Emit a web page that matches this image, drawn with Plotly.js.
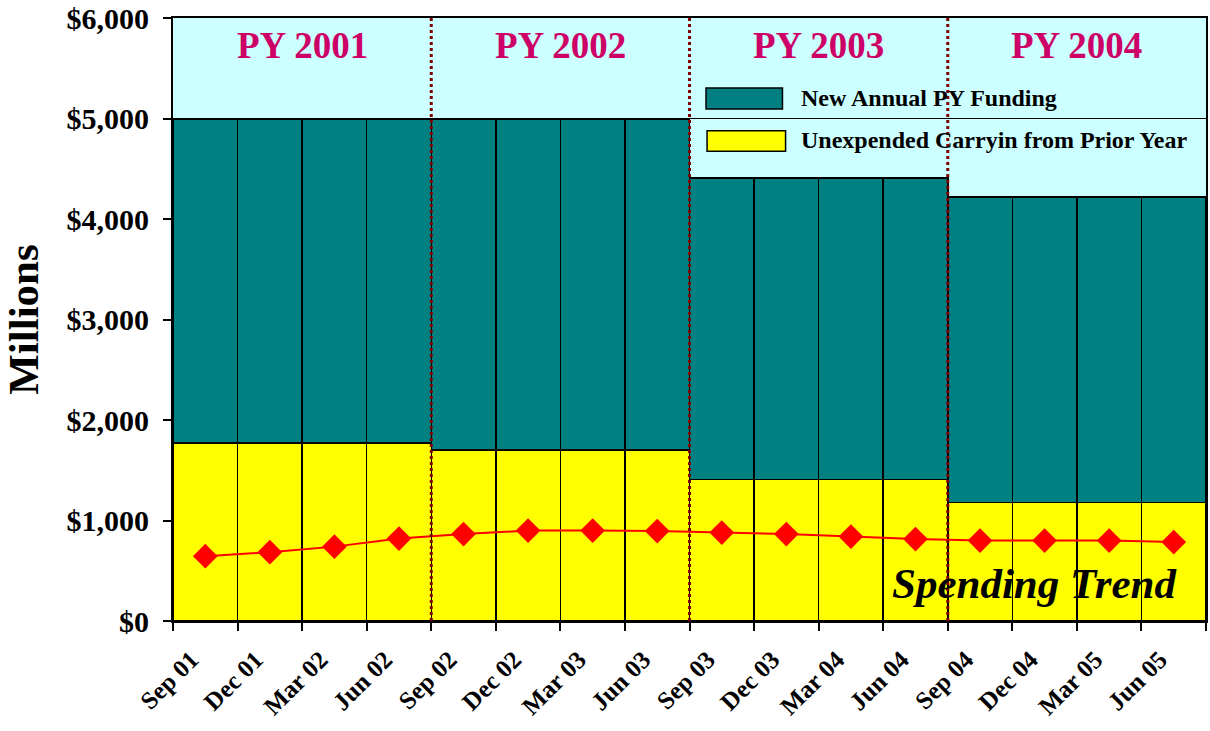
<!DOCTYPE html>
<html>
<head>
<meta charset="utf-8">
<script src="https://cdn.plot.ly/plotly-3.0.1.min.js"></script>
<style>html,body{margin:0;padding:0;background:#fff;}#chart{width:1210px;height:731px;}</style>
</head>
<body>
<div id="chart"></div>
<script>
// Data (millions of dollars)
const months = ["Sep 01","Dec 01","Mar 02","Jun 02","Sep 02","Dec 02","Mar 03","Jun 03",
                "Sep 03","Dec 03","Mar 04","Jun 04","Sep 04","Dec 04","Mar 05","Jun 05"];
const carryin = [1770,1770,1770,1770,1700,1700,1700,1700,1410,1410,1410,1410,1180,1180,1180,1180];
const newFunding = [3220,3220,3220,3220,3290,3290,3290,3290,3000,3000,3000,3000,3040,3040,3040,3040];
const spending = [645,685,740,820,865,900,900,895,880,865,840,815,800,800,800,785];
const programYears = ["PY 2001","PY 2002","PY 2003","PY 2004"];
const pyCenters = [1.5,5.5,9.5,13.5];
const pyBoundaries = [3.5,7.5,11.5];
const seriesNames = ["New Annual PY Funding","Unexpended Carryin from Prior Year"];
const yTickVals = [0,1000,2000,3000,4000,5000,6000];
const yTickText = ["$0","$1,000","$2,000","$3,000","$4,000","$5,000","$6,000"];

const SERIF = "Liberation Serif, Times New Roman, serif";
const TEAL = "#008080", YELLOW = "#ffff00";

const traces = [
  {type:"bar", x:months, y:carryin, name:seriesNames[1], width:1,
   marker:{color:YELLOW, line:{color:"#000", width:1.5}}, showlegend:false, hoverinfo:"y"},
  {type:"bar", x:months, y:newFunding, name:seriesNames[0], width:1,
   marker:{color:TEAL, line:{color:"#000", width:1.5}}, showlegend:false, hoverinfo:"y"},
  {type:"scatter", mode:"lines+markers", x:months, y:spending, name:"Spending Trend",
   line:{color:"#ff0000", width:2}, marker:{symbol:"diamond", size:19, color:"#ff0000"},
   showlegend:false}
];

const shapes = pyBoundaries.map(b => ({
  type:"line", xref:"x", yref:"y", x0:b, x1:b, y0:0, y1:6000, layer:"above",
  line:{color:"#800000", width:3, dash:"dot"}
}));
// custom legend swatches
shapes.push({type:"rect", xref:"paper", yref:"paper", x0:0.516, x1:0.590, y0:0.849, y1:0.884,
  fillcolor:TEAL, line:{color:"#000", width:1.5}, layer:"above"});
shapes.push({type:"rect", xref:"paper", yref:"paper", x0:0.517, x1:0.593, y0:0.779, y1:0.813,
  fillcolor:YELLOW, line:{color:"#000", width:1.5}, layer:"above"});

const annotations = programYears.map((t,i) => ({
  text:t, x:pyCenters[i], y:5730, xref:"x", yref:"y", showarrow:false,
  xanchor:"center", yanchor:"middle",
  font:{family:SERIF, size:37, color:"#cc0066", weight:"bold"}
}));
annotations.push({text:seriesNames[0], xref:"paper", yref:"paper", x:0.606, y:0.868,
  xanchor:"left", yanchor:"middle", showarrow:false,
  font:{family:SERIF, size:24, color:"#000", weight:"bold"}});
annotations.push({text:seriesNames[1], xref:"paper", yref:"paper", x:0.606, y:0.797,
  xanchor:"left", yanchor:"middle", showarrow:false,
  font:{family:SERIF, size:24, color:"#000", weight:"bold"}});
annotations.push({text:"Spending Trend", xref:"paper", yref:"paper", x:0.974, y:0.063,
  xanchor:"right", yanchor:"middle", showarrow:false,
  font:{family:SERIF, size:43, color:"#000", weight:"bold", style:"italic"}});

const layout = {
  width:1210, height:731,
  margin:{l:173, r:4, t:18, b:110},
  paper_bgcolor:"#ffffff",
  plot_bgcolor:"#ccffff",
  barmode:"stack", bargap:0,
  showlegend:false,
  font:{family:SERIF, color:"#000"},
  xaxis:{
    type:"category", range:[-0.5,15.5], tickson:"boundaries",
    ticks:"outside", ticklen:8, tickwidth:2, tickcolor:"#000",
    tickangle:-45, tickfont:{family:SERIF, size:25, weight:"bold", color:"#000"},
    ticklabelshift:-14, ticklabelstandoff:12,
    showline:true, linecolor:"#000", linewidth:2, mirror:true,
    showgrid:false, zeroline:false, fixedrange:true
  },
  yaxis:{
    range:[0,6000], tickvals:yTickVals, ticktext:yTickText,
    ticks:"outside", ticklen:8, tickwidth:2, tickcolor:"#000",
    tickfont:{family:SERIF, size:30, weight:"bold", color:"#000"},
    ticklabelstandoff:8,
    showline:true, linecolor:"#000", linewidth:2, mirror:true,
    showgrid:true, gridcolor:"#000", gridwidth:1.5, zeroline:false,
    title:{text:"Millions", font:{family:SERIF, size:43, weight:"bold", color:"#000"}, standoff:20},
    fixedrange:true
  },
  shapes:shapes,
  annotations:annotations
};

Plotly.newPlot("chart", traces, layout, {displayModeBar:false, staticPlot:true});
</script>
</body>
</html>
